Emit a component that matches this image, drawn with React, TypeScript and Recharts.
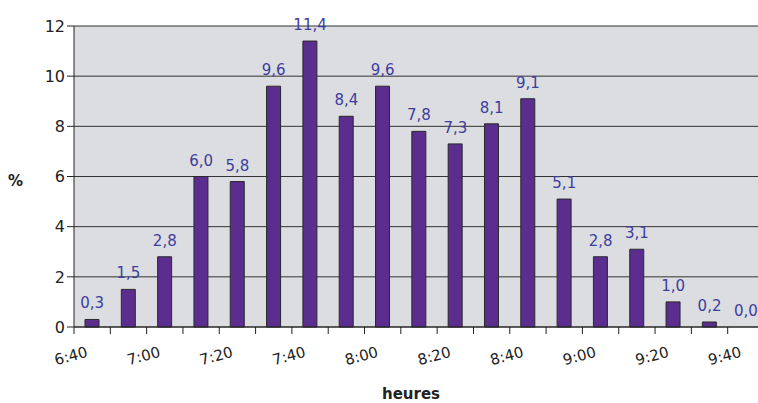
import { ComposedChart, Bar, Line, XAxis, YAxis, CartesianGrid, LabelList, Label } from 'recharts'

// one bar per 10-minute slot, starting at 6:40
const shares = [0.3, 1.5, 2.8, 6.0, 5.8, 9.6, 11.4, 8.4, 9.6, 7.8, 7.3, 8.1, 9.1, 5.1, 2.8, 3.1, 1.0, 0.2, 0.0]
const timeLabels = ['6:40', '7:00', '7:20', '7:40', '8:00', '8:20', '8:40', '9:00', '9:20', '9:40']
const yTicks = [0, 2, 4, 6, 8, 10, 12]

const data = shares.map((v, i) => ({ slot: i + 0.5, value: v }))
const boundaryTicks = shares.map((_, i) => i).concat(shares.length)

const FONT = '"DejaVu Sans", sans-serif'
const INK = '#222'

// tickSize and tickMargin are 0 on the x axis, so y is the axis line itself
function TimeTick({ x, y, payload }: any) {
  const i = payload.value as number
  const label = i % 2 === 0 ? timeLabels[i / 2] : undefined
  return (
    <g>
      <line x1={x} x2={x} y1={y} y2={y + 7} stroke={INK} strokeWidth={1} />
      {label && (
        <text
          transform={`translate(${x - 3},${y + 29}) rotate(-15)`}
          textAnchor="middle"
          dominantBaseline="central"
          fontSize={15}
          fontFamily={FONT}
          fill={INK}
        >
          {label}
        </text>
      )}
    </g>
  )
}

export default function App() {
  return (
    <div style={{ position: 'absolute', left: 0, top: 0, width: 758, height: 403, overflow: 'hidden', background: '#fff' }}>
      <ComposedChart width={790} height={403} data={data} margin={{ top: 26, right: 26, bottom: 26, left: 0 }}>
        <CartesianGrid fill="#dcdde0" stroke="#333" vertical={false} strokeOpacity={1} />
        <XAxis
          dataKey="slot"
          type="number"
          domain={[0, shares.length]}
          ticks={boundaryTicks}
          interval={0}
          height={50}
          stroke={INK}
          tickSize={0}
          tickMargin={0}
          tick={<TimeTick />}
        >
          <Label value="heures" position="insideBottom" offset={-22} dx={-8} fontSize={15} fontWeight="bold" fontFamily={FONT} fill={INK} />
        </XAxis>
        <YAxis
          domain={[0, 12]}
          ticks={yTicks}
          width={74}
          stroke={INK}
          tickSize={7}
          tick={{ fontSize: 16, fontFamily: FONT, fill: INK }}
        >
          <Label value="%" position="insideLeft" offset={8} dy={4} fontSize={15} fontWeight="bold" fontFamily={FONT} fill={INK} />
        </YAxis>
        <Bar dataKey="value" barSize={14} fill="#5a2d8e" stroke="#2a2a2a" strokeWidth={1} isAnimationActive={false} />
        <Line dataKey="value" stroke="none" dot={false} activeDot={false} legendType="none" isAnimationActive={false}>
          <LabelList
            dataKey="value"
            position="top"
            offset={11}
            formatter={(v: any) => Number(v).toFixed(1).replace('.', ',')}
            fontSize={15}
            fontFamily={FONT}
            fill="#3d3d9e"
          />
        </Line>
      </ComposedChart>
    </div>
  )
}
